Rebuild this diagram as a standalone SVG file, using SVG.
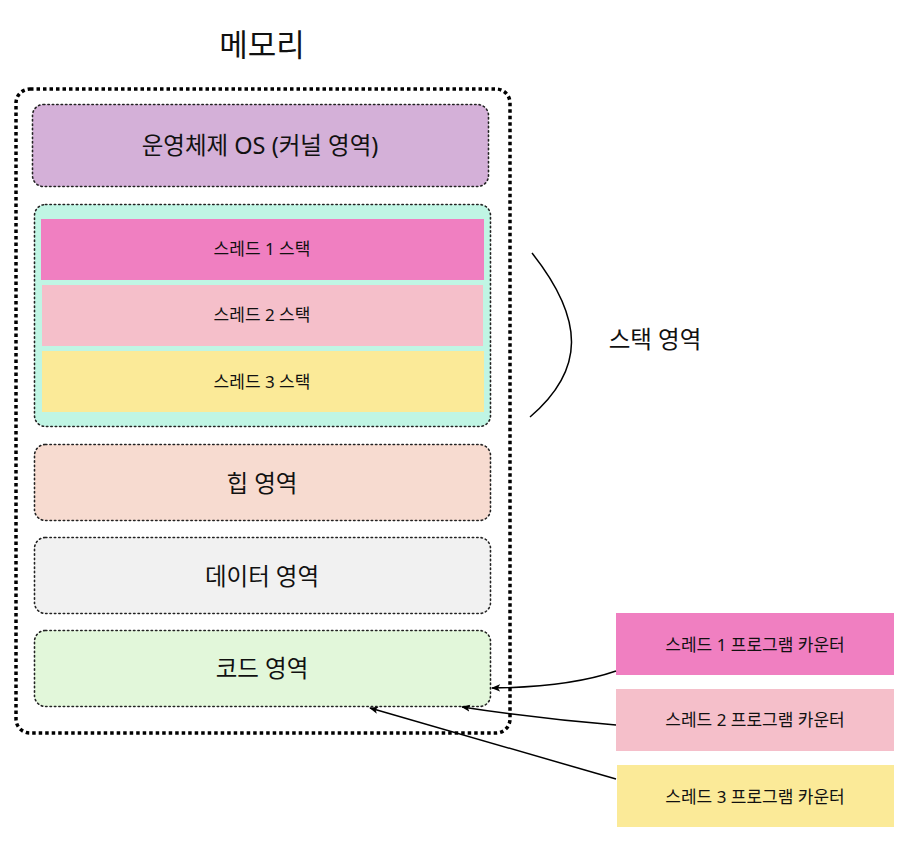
<svg xmlns="http://www.w3.org/2000/svg" width="916" height="842" viewBox="0 0 916 842">
<defs>
<style>
text{font-family:"Noto Sans","Noto Sans CJK KR",sans-serif;fill:#111;text-anchor:middle;dominant-baseline:central}
.big{font-size:23.5px}
.sm{font-size:17px}
.reg{stroke:#222;stroke-width:1.6;stroke-dasharray:1.4 3;stroke-linecap:round}
.conn{fill:none;stroke:#000;stroke-width:1.5}
</style>
<marker id="ah" viewBox="0 0 10 10" refX="9" refY="5" markerWidth="9" markerHeight="9" markerUnits="userSpaceOnUse" orient="auto">
<path d="M0,1 L10,5 L0,9 L2.5,5 Z" fill="#000"/>
</marker>
</defs>
<rect width="916" height="842" fill="#fff"/>
<g id="memory">
<text x="262" y="44" style="font-size:31px">메모리</text>
<rect x="16" y="89" width="494" height="644" rx="14" fill="none" stroke="#000" stroke-width="3.5" stroke-dasharray="3.5 3"/>
</g>
<g id="os">
<rect x="32.5" y="104.5" width="456" height="82" rx="11" fill="#D4B0D8" class="reg"/>
<text class="big" x="260" y="145">운영체제 OS (커널 영역)</text>
</g>
<g id="stack-area">
<rect x="34.5" y="204.5" width="456" height="222" rx="11" fill="#C0F5E4" class="reg"/>
</g>
<g id="stack1">
<rect x="41" y="219" width="443" height="61" fill="#F07FC1"/>
<text class="sm" x="262" y="248">스레드 1 스택</text>
</g>
<g id="stack2">
<rect x="42" y="285" width="441" height="61" fill="#F5BFCA"/>
<text class="sm" x="262" y="314">스레드 2 스택</text>
</g>
<g id="stack3">
<rect x="42" y="351" width="442" height="61" fill="#FBEA98"/>
<text class="sm" x="262" y="381">스레드 3 스택</text>
</g>
<g id="heap">
<rect x="34.5" y="444.5" width="456" height="76" rx="11" fill="#F7DBD0" class="reg"/>
<text class="big" x="262" y="483">힙 영역</text>
</g>
<g id="data">
<rect x="34.5" y="537.5" width="456" height="76" rx="11" fill="#F1F1F1" class="reg"/>
<text class="big" x="262" y="576">데이터 영역</text>
</g>
<g id="code">
<rect x="34.5" y="630.5" width="456" height="76" rx="11" fill="#E2F7DA" class="reg"/>
<text class="big" x="262" y="668">코드 영역</text>
</g>
<g id="stack-label">
<text class="big" x="655" y="339">스택 영역</text>
</g>
<g id="pc1">
<rect x="616" y="613" width="278" height="62" fill="#F07FC1"/>
<text class="sm" x="755" y="644">스레드 1 프로그램 카운터</text>
</g>
<g id="pc2">
<rect x="616" y="689" width="278" height="62" fill="#F5BFCA"/>
<text class="sm" x="755" y="719">스레드 2 프로그램 카운터</text>
</g>
<g id="pc3">
<rect x="617" y="765" width="277" height="62" fill="#FBEA98"/>
<text class="sm" x="755" y="796">스레드 3 프로그램 카운터</text>
</g>
<g id="connectors">
<path class="conn" d="M532,253 C585,320 585,370 530,417"/>
<path class="conn" d="M616,671 Q570,687 492,688" marker-end="url(#ah)"/>
<path class="conn" d="M616,725 Q540,719 462,707" marker-end="url(#ah)"/>
<path class="conn" d="M616,779 Q500,745 370,708" marker-end="url(#ah)"/>
</g>
</svg>
